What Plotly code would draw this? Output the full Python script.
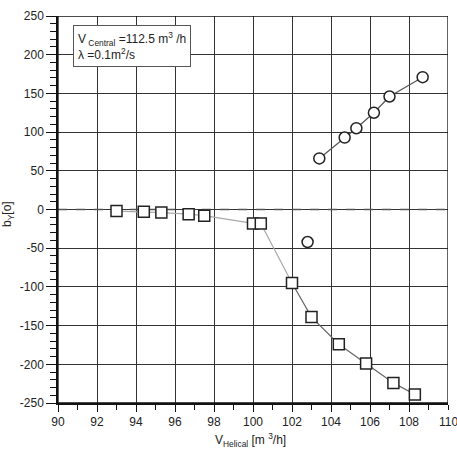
import plotly.graph_objects as go

# Squares series (V_Helical, b_Y)
sq_x = [93.0, 94.4, 95.3, 96.7, 97.5, 100.0, 100.4, 102.0, 103.0, 104.4, 105.8, 107.2, 108.3]
sq_y = [-2, -3, -4, -6, -8, -18, -18, -95, -139, -174, -199, -224, -239]

# Circles series
ci_x = [103.4, 104.7, 105.3, 106.2, 107.0, 108.7]
ci_y = [66, 93, 105, 125, 146, 171]

# Isolated circle
iso_x = [102.8]
iso_y = [-42]

x_ticks = [90, 92, 94, 96, 98, 100, 102, 104, 106, 108, 110]
y_ticks = [-250, -200, -150, -100, -50, 0, 50, 100, 150, 200, 250]

FONT = "Liberation Sans, Arial, sans-serif"

fig = go.Figure()

# zero dashed line
fig.add_trace(go.Scatter(x=[90, 110], y=[0, 0], mode="lines",
                         line=dict(color="#555555", width=1.3, dash="dash"),
                         hoverinfo="skip", showlegend=False))

# square connecting lines (light for first part, darker for the rest)
fig.add_trace(go.Scatter(x=sq_x[:8], y=sq_y[:8], mode="lines",
                         line=dict(color="#aaaaaa", width=1.2), showlegend=False))
fig.add_trace(go.Scatter(x=sq_x[7:], y=sq_y[7:], mode="lines",
                         line=dict(color="#666666", width=1.2), showlegend=False))
fig.add_trace(go.Scatter(x=sq_x, y=sq_y, mode="markers",
                         marker=dict(symbol="square", size=11, color="white",
                                     line=dict(color="#222222", width=1.5)),
                         showlegend=False))

fig.add_trace(go.Scatter(x=ci_x, y=ci_y, mode="lines+markers",
                         line=dict(color="#555555", width=1.2),
                         marker=dict(symbol="circle", size=11, color="white",
                                     line=dict(color="#222222", width=1.5)),
                         showlegend=False))
fig.add_trace(go.Scatter(x=iso_x, y=iso_y, mode="markers",
                         marker=dict(symbol="circle", size=11, color="white",
                                     line=dict(color="#222222", width=1.5)),
                         showlegend=False))

fig.update_layout(
    width=457, height=459,
    margin=dict(l=58, r=9, t=14, b=56),
    paper_bgcolor="white", plot_bgcolor="white",
    font=dict(family=FONT, size=12, color="#222222"),
    showlegend=False,
)

fig.update_xaxes(
    range=[90, 110], tickvals=x_ticks[:-1], ticktext=[str(v) for v in x_ticks[:-1]],
    showgrid=True, gridcolor="#333333", gridwidth=1.3,
    showline=True, linecolor="#111111", linewidth=1.5, mirror=False,
    ticks="outside", ticklen=7, tickcolor="#111111", tickwidth=1.3,
    minor=dict(dtick=1, ticks="outside", ticklen=5, tickcolor="#111111", tickwidth=1, showgrid=False),
    zeroline=False, tickfont=dict(size=12),
)
fig.update_yaxes(
    range=[-250, 250], tickvals=y_ticks, ticktext=[str(v) for v in y_ticks],
    showgrid=True, gridcolor="#333333", gridwidth=1.3,
    showline=True, linecolor="#111111", linewidth=1.5,
    ticks="outside", ticklen=10, tickcolor="#111111", tickwidth=1.3,
    minor=dict(dtick=10, ticks="outside", ticklen=6, tickcolor="#111111", tickwidth=1, showgrid=False),
    zeroline=False, tickfont=dict(size=12),
)

# last x tick label (partially clipped at right edge, as in reference)
fig.add_annotation(
    xref="x", yref="paper", x=x_ticks[-1], y=0, yshift=-10,
    xanchor="center", yanchor="top", showarrow=False,
    text=str(x_ticks[-1]), font=dict(size=12, family=FONT, color="#222222"),
)

# border lines top/right
fig.add_shape(type="rect", xref="x", yref="y", x0=90, x1=110, y0=-250, y1=250,
              line=dict(color="#111111", width=1.3), layer="above")

# info box
fig.add_annotation(
    xref="paper", yref="paper", x=(73 - 58) / 390, y=1 - (23 - 14) / 389,
    xanchor="left", yanchor="top", align="left", showarrow=False,
    text="V<sub> Central</sub> =112.5 m<sup>3</sup> /h<br>λ =0.1m<sup>2</sup>/s",
    font=dict(size=12, family=FONT, color="#222222"),
    bgcolor="white", bordercolor="#555555", borderwidth=1, borderpad=4,
)

# x-axis title
fig.add_annotation(
    xref="paper", yref="paper", x=(213 - 58) / 390, y=-(440 - 403) / 389,
    xanchor="left", yanchor="middle", showarrow=False,
    text="V<sub>Helical</sub> [m <sup>3</sup>/h]",
    font=dict(size=12, family=FONT, color="#222222"),
)

# y-axis title
fig.add_annotation(
    xref="paper", yref="paper", x=(8 - 58) / 390, y=(403 - 213) / 389,
    xanchor="center", yanchor="middle", showarrow=False, textangle=-90,
    text="b<sub>Y</sub>[o]",
    font=dict(size=12, family=FONT, color="#222222"),
)

fig.write_html("out.html")
